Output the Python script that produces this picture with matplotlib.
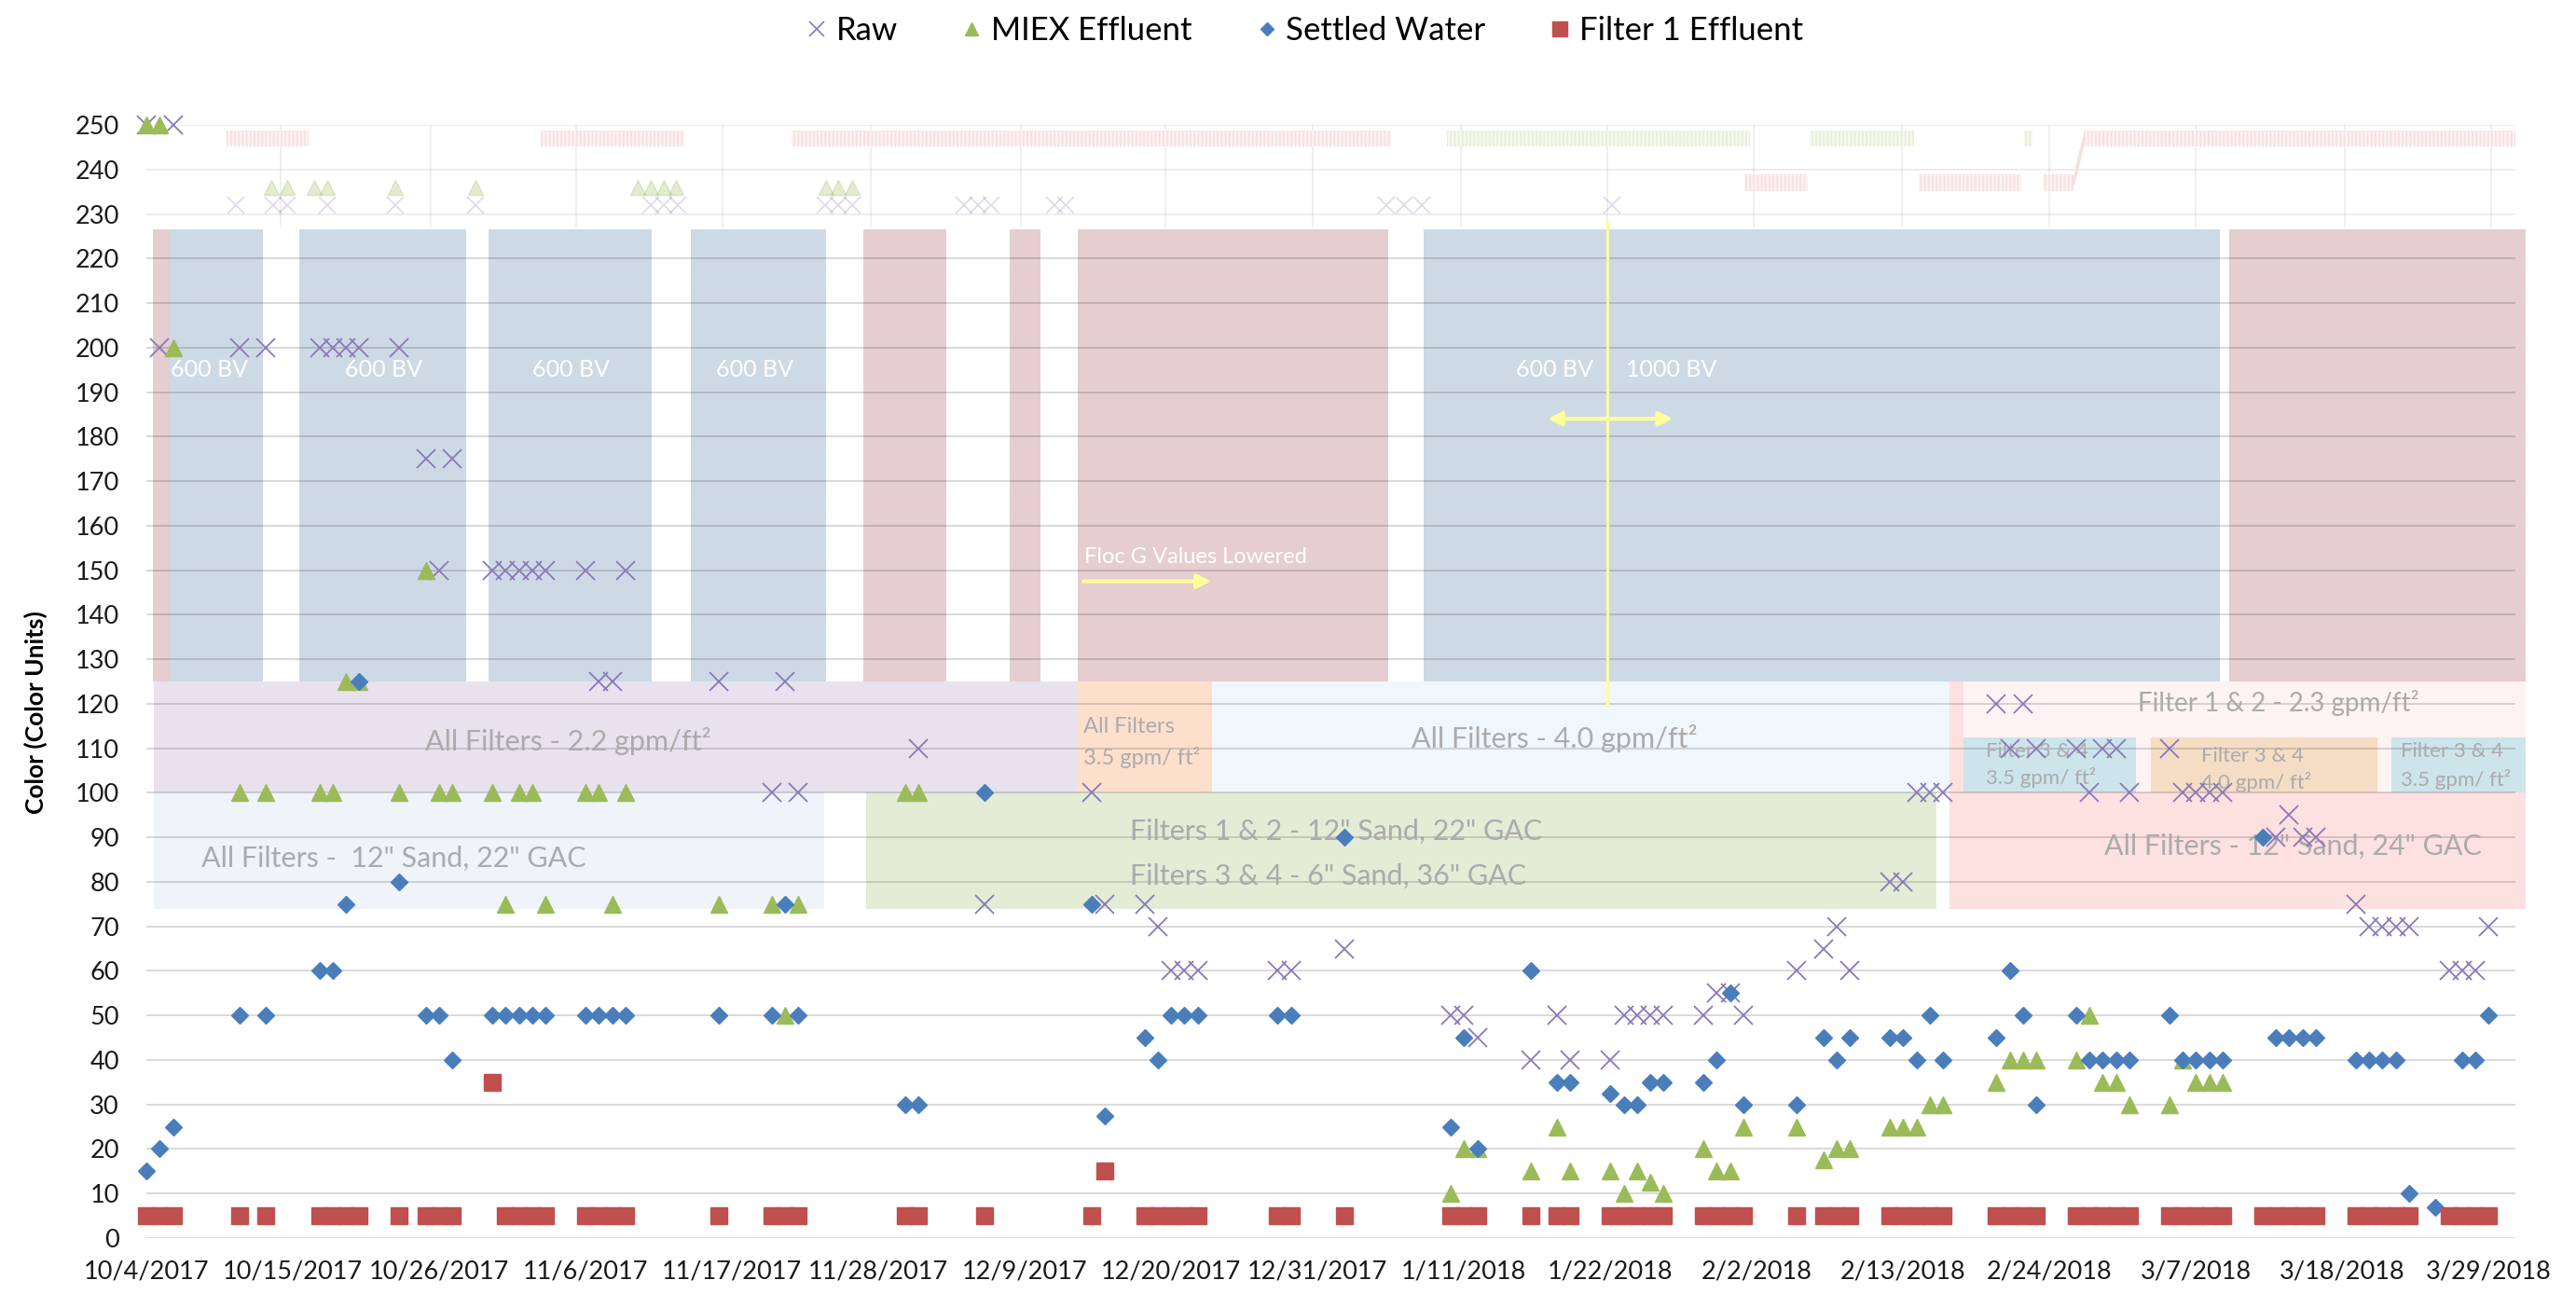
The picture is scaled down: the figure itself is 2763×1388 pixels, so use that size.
import pandas as pd
import matplotlib
matplotlib.use("Agg")
import matplotlib.pyplot as plt
from matplotlib.patches import Rectangle
from matplotlib.lines import Line2D

plt.rcParams['font.family'] = ['Lato', 'DejaVu Sans']
plt.rcParams['hatch.linewidth'] = 1.2

START = pd.Timestamp('2017-10-04')

# ---------------- data (day = days after 10/4/2017, colour units) ----------------
tick_labels = ['10/4/2017', '10/15/2017', '10/26/2017', '11/6/2017', '11/17/2017',
               '11/28/2017', '12/9/2017', '12/20/2017', '12/31/2017', '1/11/2018',
               '1/22/2018', '2/2/2018', '2/13/2018', '2/24/2018', '3/7/2018',
               '3/18/2018', '3/29/2018']

raw_day = [0, 1, 2, 7, 9, 13, 14, 15, 16, 19, 21, 22, 23, 26, 27, 28, 29, 30, 33, 34, 35, 36,
           43, 47, 48, 49, 58, 63, 71, 72, 75, 76, 77, 78, 79, 85, 86, 90, 98, 99, 100,
           104, 106, 107, 110, 111, 112, 113, 114, 117, 118, 119, 120, 124, 126, 127, 128,
           131, 132, 133, 134, 135, 139, 140, 141, 142, 145, 146, 147, 148, 149, 152, 153,
           154, 155, 156, 160, 161, 162, 163, 166, 167, 168, 169, 170, 173, 174, 175, 176]
raw_val = [250, 200, 250, 200, 200, 200, 200, 200, 200, 200, 175, 150, 175, 150, 150, 150, 150, 150, 150, 125, 125, 150,
           125, 100, 125, 100, 110, 75, 100, 75, 75, 70, 60, 60, 60, 60, 60, 65, 50, 50, 45,
           40, 50, 40, 40, 50, 50, 50, 50, 50, 55, 55, 50, 60, 65, 70, 60,
           80, 80, 100, 100, 100, 120, 110, 120, 110, 110, 100, 110, 110, 100, 110, 100,
           100, 100, 100, 90, 95, 90, 90, 75, 70, 70, 70, 70, 60, 60, 60, 70]

miex_day = [0, 1, 2, 7, 9, 13, 14, 15, 16, 19, 21, 22, 23, 26, 27, 28, 29, 30, 33, 34, 35, 36,
            43, 47, 48, 49, 57, 58, 98, 99, 100, 104, 106, 107, 110, 111, 112, 113, 114,
            117, 118, 119, 120, 124, 126, 127, 128, 131, 132, 133, 134, 135, 139, 140, 141,
            142, 145, 146, 147, 148, 149, 152, 153, 154, 155, 156]
miex_val = [250, 250, 200, 100, 100, 100, 100, 125, 125, 100, 150, 100, 100, 100, 75, 100, 100, 75, 100, 100, 75, 100,
            75, 75, 50, 75, 100, 100, 10, 20, 20, 15, 25, 15, 15, 10, 15, 12.5, 10,
            20, 15, 15, 25, 25, 17.5, 20, 20, 25, 25, 25, 30, 30, 35, 40, 40,
            40, 40, 50, 35, 35, 30, 30, 40, 35, 35, 35]

settled_day = [0, 1, 2, 7, 9, 13, 14, 15, 16, 19, 21, 22, 23, 26, 27, 28, 29, 30, 33, 34, 35, 36,
               43, 47, 48, 49, 57, 58, 63, 71, 72, 75, 76, 77, 78, 79, 85, 86, 90, 98, 99, 100,
               104, 106, 107, 110, 111, 112, 113, 114, 117, 118, 119, 120, 124, 126, 127, 128,
               131, 132, 133, 134, 135, 139, 140, 141, 142, 145, 146, 147, 148, 149, 152, 153,
               154, 155, 156, 159, 160, 161, 162, 163, 166, 167, 168, 169, 170, 172, 174, 175, 176]
settled_val = [15, 20, 25, 50, 50, 60, 60, 75, 125, 80, 50, 50, 40, 50, 50, 50, 50, 50, 50, 50, 50, 50,
               50, 50, 75, 50, 30, 30, 100, 75, 27.5, 45, 40, 50, 50, 50, 50, 50, 90, 25, 45, 20,
               60, 35, 35, 32.5, 30, 30, 35, 35, 35, 40, 55, 30, 30, 45, 40, 45,
               45, 45, 40, 50, 40, 45, 60, 50, 30, 50, 40, 40, 40, 40, 50, 40,
               40, 40, 40, 90, 45, 45, 45, 45, 40, 40, 40, 40, 10, 7, 40, 40, 50]

filter_day = [0, 1, 2, 7, 9, 13, 14, 15, 16, 19, 21, 22, 23, 26, 27, 28, 29, 30, 33, 34, 35, 36,
              43, 47, 48, 49, 57, 58, 63, 71, 72, 75, 76, 77, 78, 79, 85, 86, 90, 98, 99, 100,
              104, 106, 107, 110, 111, 112, 113, 114, 117, 118, 119, 120, 124, 126, 127, 128,
              131, 132, 133, 134, 135, 139, 140, 141, 142, 145, 146, 147, 148, 149, 152, 153,
              154, 155, 156, 159, 160, 161, 162, 163, 166, 167, 168, 169, 170, 173, 174, 175, 176]
filter_val = [5, 5, 5, 5, 5, 5, 5, 5, 5, 5, 5, 5, 5, 35, 5, 5, 5, 5, 5, 5, 5, 5,
              5, 5, 5, 5, 5, 5, 5, 5, 15, 5, 5, 5, 5, 5, 5, 5, 5, 5, 5, 5,
              5, 5, 5, 5, 5, 5, 5, 5, 5, 5, 5, 5, 5, 5, 5, 5,
              5, 5, 5, 5, 5, 5, 5, 5, 5, 5, 5, 5, 5, 5, 5, 5,
              5, 5, 5, 5, 5, 5, 5, 5, 5, 5, 5, 5, 5, 5, 5, 5, 5]

# faded overlay at the top of the chart
ghost_raw_day = [6.7, 9.5, 10.6, 13.6, 18.7, 24.7, 37.9, 38.9, 39.9, 51.0, 52.0, 53.0,
                 61.4, 62.5, 63.5, 68.2, 69.1, 93.2, 94.5, 95.8, 110.1]
ghost_raw_val = [232, 232, 232, 232, 232, 232, 232, 232, 232, 232, 232, 232,
                 232, 232, 232, 232, 232, 232, 232, 232, 232]
ghost_miex_day = [9.4, 10.6, 12.6, 13.6, 18.7, 24.7, 36.9, 37.9, 38.9, 39.8, 51.1, 52.0, 53.0]
ghost_miex_val = [236, 236, 236, 236, 236, 236, 236, 236, 236, 236, 236, 236, 236]
ghost_grid_day = [10.1, 21.4, 32.3, 43.3, 54.4, 65.7, 76.6, 87.6, 98.8, 109.8, 120.8,
                  131.9, 143.0, 154.0, 165.2, 176.2]

C_RAW = '#8a78b8'
C_MIEX = '#9bbb59'
C_SET = '#4a7ebb'
C_FIL = '#c0504d'
C_TXT = '#ababab'
C_YEL = '#ffff99'

fig = plt.figure(figsize=(27.63, 13.88), dpi=100)
ax = fig.add_axes([157 / 2763, 60 / 1388, (2698 - 157) / 2763, (1328 - 134) / 1388])
ax.set_xlim(0.03, 178.0)
ax.set_ylim(0, 250)
for s in ax.spines.values():
    s.set_visible(False)

# ---- shaded period boxes ----
BLUE, RED = '#ced9e6', '#e5cdd0'
boxes = [(0.51, 1.74, 125, 226.6, RED), (1.74, 8.78, 125, 226.6, BLUE),
         (11.5, 24.0, 125, 226.6, BLUE), (25.7, 38.0, 125, 226.6, BLUE),
         (40.9, 51.1, 125, 226.6, BLUE), (53.9, 60.1, 125, 226.6, RED),
         (64.9, 67.2, 125, 226.6, RED), (70.0, 93.3, 125, 226.6, RED),
         (96.0, 155.8, 125, 226.6, BLUE), (156.5, 178.8, 125, 226.6, RED),
         (0.57, 70.0, 100, 125, '#e8e2ee'), (0.57, 50.9, 74, 100, '#eef4fa'),
         (54.1, 134.5, 74, 100, '#e3ecd5'), (70.0, 80.1, 100, 125, '#fde0cc'),
         (80.1, 135.5, 100, 125, '#f0f7fc'), (135.5, 136.5, 100, 125, '#fde0e0'),
         (135.5, 178.8, 74, 100, '#fde0e0'), (136.5, 178.8, 100, 125, '#fdf3f2'),
         (136.5, 149.5, 100, 112.4, '#cde4eb'), (150.6, 167.6, 100, 112.4, '#f5dcc5'),
         (168.7, 178.8, 100, 112.4, '#cde4eb')]
for x0, x1, y0, y1, c in boxes:
    ax.add_patch(Rectangle((x0, y0), x1 - x0, y1 - y0, facecolor=c, edgecolor='none',
                           zorder=1, clip_on=False))

# gridlines (drawn over the boxes, darker inside them)
for y in range(0, 251, 10):
    ax.plot([0.03, 178.0], [y, y], color='k', alpha=0.15 if y < 230 else 0.07,
            lw=1.4, zorder=2, solid_capstyle='butt')

# faded overlay strip at top
ax.vlines(ghost_grid_day, 227, 252.5, color='k', alpha=0.07, lw=1.2, zorder=2)
PINK_F, PINK_H = '#fcf2f2', '#f6dfdf'
GRN_F, GRN_H = '#f5f8ee', '#e9efdb'
for x0, x1, y, c, hc in [(6.0, 12.2, 247, PINK_F, PINK_H), (29.6, 40.4, 247, PINK_F, PINK_H),
                         (48.5, 93.5, 247, PINK_F, PINK_H), (145.6, 178.2, 247, PINK_F, PINK_H),
                         (120.1, 124.8, 237, PINK_F, PINK_H), (133.2, 140.9, 237, PINK_F, PINK_H),
                         (142.5, 144.8, 237, PINK_F, PINK_H),
                         (97.7, 120.5, 247, GRN_F, GRN_H), (125.0, 132.8, 247, GRN_F, GRN_H),
                         (141.1, 141.7, 247, GRN_F, GRN_H)]:
    ax.add_patch(Rectangle((x0, y - 1.8), x1 - x0, 3.6, facecolor=c, edgecolor=hc,
                           hatch='||||', lw=0, zorder=2))
ax.plot([144.8, 145.6], [237, 247], color=PINK_H, lw=2.5, zorder=2)
ax.plot(ghost_raw_day, ghost_raw_val, ls='none', marker='x', ms=13, mew=1.2,
        color=C_RAW, alpha=0.28, zorder=3)
ax.plot(ghost_miex_day, ghost_miex_val, ls='none', marker='^', ms=11,
        color=C_MIEX, alpha=0.28, zorder=3)

# ---- annotations inside the boxes ----
for xc in [4.7, 17.8, 31.9, 45.7, 105.8]:
    ax.text(xc, 195, '600 BV', color='white', fontsize=18, ha='center', va='center', zorder=4)
ax.text(114.6, 195, '1000 BV', color='white', fontsize=18, ha='center', va='center', zorder=4)
ax.plot([109.8, 109.8], [228, 119.6], color=C_YEL, lw=2.2, zorder=4)
ax.annotate('', xy=(105.1, 184), xytext=(114.9, 184),
            arrowprops=dict(arrowstyle='<|-|>', color=C_YEL, lw=3, mutation_scale=22), zorder=4)
ax.text(70.5, 153, 'Floc G Values Lowered', color='white', fontsize=17, ha='left', va='center', zorder=4)
ax.annotate('', xy=(80.2, 147.5), xytext=(70.2, 147.5),
            arrowprops=dict(arrowstyle='-|>', color=C_YEL, lw=3, mutation_scale=22), zorder=4)

band_txt = [(31.7, 111.7, 'All Filters - 2.2 gpm/ft²', 22, 'center'),
            (18.6, 85.2, 'All Filters -  12" Sand, 22" GAC', 22, 'center'),
            (70.4, 114.9, 'All Filters', 17, 'left'),
            (70.4, 108.0, '3.5 gpm/ ft²', 17, 'left'),
            (105.8, 112.2, 'All Filters - 4.0 gpm/ft²', 22, 'center'),
            (73.9, 91.4, 'Filters 1 & 2 - 12" Sand, 22" GAC', 22, 'left'),
            (73.9, 81.3, 'Filters 3 & 4 - 6" Sand, 36" GAC', 22, 'left'),
            (160.2, 120.1, 'Filter 1 & 2 - 2.3 gpm/ft²', 20, 'center'),
            (138.2, 109.3, 'Filter 3 & 4', 16, 'left'),
            (138.2, 103.4, '3.5 gpm/ ft²', 16, 'left'),
            (154.4, 108.3, 'Filter 3 & 4', 16, 'left'),
            (154.4, 102.3, '4.0 gpm/ ft²', 16, 'left'),
            (169.4, 109.3, 'Filter 3 & 4', 16, 'left'),
            (169.4, 103.0, '3.5 gpm/ ft²', 16, 'left'),
            (161.3, 88.0, 'All Filters - 12" Sand, 24" GAC', 22, 'center')]
for x, y, t, fs, ha in band_txt:
    ax.text(x, y, t, color=C_TXT, fontsize=fs, ha=ha, va='center', zorder=4, clip_on=False)

# ---- data series ----
ax.plot(raw_day, raw_val, ls='none', marker='x', ms=14, mew=1.3, color=C_RAW,
        zorder=5, clip_on=False)
ax.plot(miex_day, miex_val, ls='none', marker='^', ms=12.5, color=C_MIEX,
        zorder=6, clip_on=False)
ax.plot(settled_day, settled_val, ls='none', marker='D', ms=9.5, color=C_SET,
        zorder=7, clip_on=False)
ax.plot(filter_day, filter_val, ls='none', marker='s', ms=13.5, color=C_FIL,
        zorder=8, clip_on=False)

# ---- axes ----
tick_pos = [(d - START).days for d in pd.to_datetime(tick_labels, format='%m/%d/%Y')]
ax.set_xticks(tick_pos)
ax.set_xticklabels(tick_labels)
ax.set_yticks(range(0, 251, 10))
ax.tick_params(axis='x', length=0, labelsize=19.5, pad=17, colors='#1a1a1a')
ax.tick_params(axis='y', length=0, labelsize=19.5, pad=21, colors='#1a1a1a')
fig.text(0.0137, 0.4496, 'Color (Color Units)', rotation=90, fontweight='bold',
         fontsize=19, ha='center', va='center')

handles = [Line2D([], [], ls='none', marker='x', ms=12, mew=1.2, color=C_RAW),
           Line2D([], [], ls='none', marker='^', ms=10, color=C_MIEX),
           Line2D([], [], ls='none', marker='D', ms=7.5, color=C_SET),
           Line2D([], [], ls='none', marker='s', ms=11, color=C_FIL)]
fig.legend(handles, ['Raw', 'MIEX Effluent', 'Settled Water', 'Filter 1 Effluent'],
           loc='center', bbox_to_anchor=(0.506, 0.976), ncol=4, frameon=False,
           fontsize=25, handletextpad=0.2, columnspacing=1.9, handlelength=0.8)

fig.savefig('out.png', dpi=100)
